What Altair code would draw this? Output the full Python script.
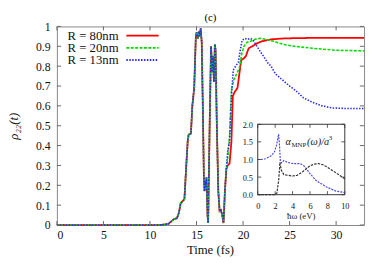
import altair as alt
import pandas as pd

# ---------------- main panel data ----------------
series_names = ["R = 80nm", "R = 20nm", "R = 13nm"]
series_colors = ["#ff0000", "#00dd00", "#2a2aff"]
series_dashes = [[1, 0], [3, 1.5], [1.5, 1.5]]

# part shared by all three curves (fs, rho22)
t_common = [0, 11.0, 11.5, 12.0, 12.2, 12.5, 12.9, 13.1, 13.3, 13.5, 13.7, 13.9, 14.05, 14.15, 14.4,
            14.55, 14.75, 14.92, 15.0, 15.15, 15.25, 15.35, 15.45, 15.56, 15.7, 15.79, 15.86, 15.97,
            16.02, 16.07, 16.18, 16.25, 16.42, 16.56, 16.7, 16.77, 16.87, 16.97, 17.05, 17.17, 17.34,
            17.48, 17.62, 17.76, 17.9, 18.05, 18.2]
v_common = [0, 0, 0.002, 0.006, 0.015, 0.027, 0.035, 0.06, 0.11, 0.12, 0.13, 0.3, 0.42, 0.455, 0.46,
            0.6, 0.69, 0.94, 0.97, 0.94, 0.975, 0.95, 0.99, 0.92, 0.53, 0.24, 0.17, 0.22,
            0.2, 0.24, 0.05, 0.01, 0.53, 0.9, 0.77, 0.85, 0.72, 0.91, 0.88, 0.53, 0.17,
            0.07, 0.075, 0.05, 0.01, 0.17, 0.28]

t_r80 = [18.35, 18.55, 18.75, 18.9, 19.1, 19.4, 19.6, 19.8, 20.1, 20.3, 20.6, 21.0, 21.5, 22.0, 23.0,
         24.5, 27.0, 33.0]
v_r80 = [0.30, 0.31, 0.42, 0.65, 0.67, 0.69, 0.76, 0.83, 0.84, 0.85, 0.89, 0.90, 0.915, 0.925, 0.935,
         0.94, 0.942, 0.942]

t_r20 = [18.35, 18.55, 18.75, 19.0, 19.3, 19.6, 19.85, 20.1, 20.4, 20.8, 21.3, 21.8, 22.5, 23.3, 24.3,
         25.5, 27.5, 30.0, 33.0]
v_r20 = [0.34, 0.45, 0.68, 0.73, 0.76, 0.79, 0.86, 0.90, 0.92, 0.925, 0.935, 0.94, 0.935, 0.925, 0.91,
         0.90, 0.89, 0.88, 0.877]

t_r13 = [18.35, 18.55, 18.75, 18.95, 19.2, 19.5, 19.7, 19.9, 20.2, 20.5, 20.8, 21.1, 21.5, 21.9, 22.2,
         22.6, 23.0, 23.5, 24.0, 24.5, 25.0, 25.7, 26.5, 27.5, 28.5, 29.5, 31.0, 33.0]
v_r13 = [0.37, 0.42, 0.65, 0.78, 0.80, 0.82, 0.88, 0.93, 0.94, 0.935, 0.94, 0.93, 0.90, 0.87, 0.85,
         0.82, 0.80, 0.76, 0.74, 0.72, 0.70, 0.675, 0.64, 0.617, 0.60, 0.59, 0.587, 0.587]

x_ticks = [0, 5, 10, 15, 20, 25, 30]
y_ticks = [0, 0.1, 0.2, 0.3, 0.4, 0.5, 0.6, 0.7, 0.8, 0.9, 1.0]

# ---------------- inset data ----------------
ev_blue = [0, 0.4, 0.9, 1.5, 1.9, 2.15, 2.3, 2.4, 2.5, 2.6, 2.7, 3.0, 3.4, 4.1, 4.9, 5.4, 6.0, 6.7,
           7.9, 9.0, 10.0]
a_blue = [1.0, 1.0, 1.02, 1.1, 1.2, 1.4, 1.6, 1.72, 1.4, 0.95, 0.9, 0.97, 0.92, 0.88, 0.88, 0.8, 0.6,
          0.4, 0.22, 0.1, 0.06]
ev_black = [0, 1.0, 2.0, 2.2, 2.4, 2.55, 2.7, 3.0, 3.5, 4.0, 4.5, 5.0, 5.5, 6.0, 6.5, 7.0, 7.5, 8.0,
            9.0, 10.0]
a_black = [0, 0, 0, 0.05, 0.4, 0.92, 0.7, 0.57, 0.55, 0.53, 0.55, 0.62, 0.72, 0.82, 0.87, 0.88, 0.85,
           0.78, 0.62, 0.45]
inset_x_ticks = [0, 2, 4, 6, 8, 10]
inset_y_ticks = [0, 0.5, 1.0, 1.5, 2.0]

FONT = "'Liberation Serif', 'DejaVu Serif', serif"
W, H = 314, 203
X_DOM = [0, 33]
Y_DOM = [0, 1]
IX_DOM = [-23.07, 12.21]
IY_DOM = [-0.861, 4.778]

AX = dict(labelFont=FONT, titleFont=FONT, labelColor="#111", titleColor="#111",
          titleFontWeight="normal", labelOverlap=False, tickSize=0, domain=False, grid=False)

# ---------------- main layers ----------------
xs = alt.Scale(domain=X_DOM, nice=False, zero=False)
ys = alt.Scale(domain=Y_DOM, nice=False, zero=False)

main_x_axis = alt.Axis(orient="bottom", values=x_ticks, labelPadding=5, labelFontSize=12,
                       title=None, **AX)
main_y_axis = alt.Axis(orient="left", values=y_ticks, format="~g", labelPadding=7, labelFontSize=12,
                       titleX=-44, titleY=H / 2, titleAngle=270,
                       titleBaseline="middle", titleAlign="center", titleFontSize=13,
                       titleFontStyle="italic", **AX)

tails = [(t_r80, v_r80), (t_r20, v_r20), (t_r13, v_r13)]
main_layers = []
for k, (tt, vv) in enumerate(tails):
    df = pd.DataFrame({"t": t_common + tt, "v": v_common + vv})
    enc_x = alt.X("t:Q", scale=xs, axis=main_x_axis if k == 0 else None)
    enc_y = alt.Y("v:Q", scale=ys, title="ρ₂₂(t)", axis=main_y_axis if k == 0 else None)
    main_layers.append(
        alt.Chart(df).mark_line(color=series_colors[k], strokeDash=series_dashes[k],
                                strokeWidth=1.6 if k else 1.8)
        .encode(x=enc_x, y=enc_y)
    )

x_title = alt.Chart(pd.DataFrame({"a": [0]})).mark_text(
    text="Time (fs)", align="center", baseline="middle", font=FONT, fontSize=13,
    fontWeight="normal", color="#111").encode(x=alt.value(W / 2), y=alt.value(H + 26))

tick_rows = []
for t in x_ticks:
    tick_rows.append({"x": t, "x2": t, "y": 0, "y2": 0.02})
    tick_rows.append({"x": t, "x2": t, "y": 1, "y2": 0.98})
for v in y_ticks:
    tick_rows.append({"x": 0, "x2": 0.45, "y": v, "y2": v})
    tick_rows.append({"x": X_DOM[1], "x2": X_DOM[1] - 0.45, "y": v, "y2": v})
main_ticks = alt.Chart(pd.DataFrame(tick_rows)).mark_rule(color="#666", strokeWidth=1).encode(
    x=alt.X("x:Q", scale=xs, axis=None), x2="x2:Q",
    y=alt.Y("y:Q", scale=ys, axis=None), y2="y2:Q")

# legend (label left, line sample right)
legend_layers = []
for k, name in enumerate(series_names):
    yy = 9.5 + 12.4 * k
    legend_layers.append(
        alt.Chart(pd.DataFrame({"a": [0]})).mark_text(
            text=name, align="right", baseline="middle", font=FONT, fontSize=13, color="#111")
        .encode(x=alt.value(63), y=alt.value(yy)))
    legend_layers.append(
        alt.Chart(pd.DataFrame({"a": [0]})).mark_rule(
            color=series_colors[k], strokeDash=series_dashes[k], strokeWidth=1.8)
        .encode(x=alt.value(71), x2=alt.value(104), y=alt.value(yy)))

# ---------------- inset layers ----------------
ixs = alt.Scale(domain=IX_DOM, nice=False, zero=False)
iys = alt.Scale(domain=IY_DOM, nice=False, zero=False)

box = alt.Chart(pd.DataFrame({"x": [0], "x2": [10], "y": [0], "y2": [2]})).mark_rect(
    fill="white", stroke="#333", strokeWidth=1).encode(
    x=alt.X("x:Q", scale=ixs,
            axis=alt.Axis(orient="bottom", offset=-31, values=inset_x_ticks, labelFontSize=8.5,
                          labelPadding=7, title=None, **AX)),
    x2="x2:Q",
    y=alt.Y("y:Q", scale=iys,
            axis=alt.Axis(orient="left", offset=-205, values=inset_y_ticks, format=".1f",
                          labelFontSize=8.5, labelPadding=5, title=None, **AX)),
    y2="y2:Q")

def ix(f):
    return alt.X(f, scale=ixs, axis=None)

def iy(f):
    return alt.Y(f, scale=iys, axis=None)

blue_df = pd.DataFrame({"e": ev_blue, "a": a_blue})
black_df = pd.DataFrame({"e": ev_black, "a": a_black})
inset_blue = alt.Chart(blue_df).mark_line(color="#4a4ae6", strokeDash=[2, 1.2], strokeWidth=1.2).encode(
    x=ix("e:Q"), y=iy("a:Q"))
inset_black = alt.Chart(black_df).mark_line(color="#333333", strokeDash=[2.5, 1.2], strokeWidth=1.2).encode(
    x=ix("e:Q"), y=iy("a:Q"))

itick_rows = []
for e in inset_x_ticks:
    itick_rows.append({"x": e, "x2": e, "y": 0, "y2": 0.1})
    itick_rows.append({"x": e, "x2": e, "y": 2, "y2": 1.9})
for a in inset_y_ticks:
    itick_rows.append({"x": 0, "x2": 0.4, "y": a, "y2": a})
    itick_rows.append({"x": 10, "x2": 9.6, "y": a, "y2": a})
inset_ticks = alt.Chart(pd.DataFrame(itick_rows)).mark_rule(color="#333", strokeWidth=0.8).encode(
    x=ix("x:Q"), x2="x2:Q", y=iy("y:Q"), y2="y2:Q")

lab_df = pd.DataFrame({"x": [3.2], "y": [1.42]})
def itext(txt, dx, dy, size, style="italic"):
    return alt.Chart(lab_df).mark_text(text=txt, align="left", baseline="alphabetic", dx=dx, dy=dy,
                                       font=FONT, fontSize=size, fontStyle=style, color="#222").encode(
        x=ix("x:Q"), y=iy("y:Q"))

alpha_parts = [itext("α", 0, 0, 10.5), itext("MNP", 6, 2.5, 7, "normal"),
               itext("(ω)/a", 22, 0, 10.5), itext("3", 44, -4.5, 7, "normal")]

xlab = alt.Chart(pd.DataFrame({"x": [5], "y": [-0.6]})).mark_text(
    text="ħω (eV)", align="center", baseline="middle", font=FONT, fontSize=9, color="#222").encode(
    x=ix("x:Q"), y=iy("y:Q"))

chart = (
    alt.layer(*main_layers, x_title, main_ticks, *legend_layers,
              box, inset_blue, inset_black, inset_ticks, *alpha_parts, xlab)
    .resolve_scale(x="independent", y="independent")
    .resolve_axis(x="independent", y="independent")
    .properties(width=W, height=H, autosize=alt.AutoSizeParams(type="none"),
                padding={"left": 50, "top": 16, "right": 2, "bottom": 37},
                background="white",
                title=alt.TitleParams("(c)", font=FONT, fontSize=11, fontWeight="normal", offset=-2))
    .configure_view(stroke="#888", strokeWidth=1)
    .configure_axis(labelFont=FONT, titleFont=FONT, titleFontWeight="normal", labelOverlap=False)
)

chart.save("out.html", embed_options={"renderer": "svg", "actions": False})
